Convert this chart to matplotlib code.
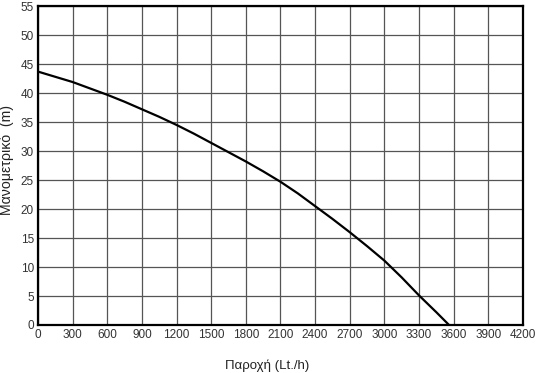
import matplotlib
matplotlib.use('Agg')
import matplotlib.pyplot as plt

plt.rcParams['font.family'] = ['Liberation Sans', 'DejaVu Sans']

# τιμές καμπύλης (παροχή Lt/h, μανομετρικό m), διαβασμένες από το γράφημα
flow = [0, 150, 300, 450, 600, 750, 900, 1050, 1200, 1350, 1500, 1650, 1800,
        1950, 2100, 2250, 2400, 2550, 2700, 2850, 3000, 3150, 3300, 3450, 3560]
head = [43.7, 42.8, 41.9, 40.8, 39.7, 38.5, 37.2, 35.9, 34.5, 33.0, 31.4, 29.8, 28.2,
        26.5, 24.7, 22.7, 20.5, 18.3, 16.0, 13.6, 11.1, 8.2, 5.1, 2.2, 0.0]

x_ticks = list(range(0, 4201, 300))
y_ticks = list(range(0, 56, 5))

fig = plt.figure(figsize=(5.4, 3.73), dpi=100)
ax = fig.add_axes([0.0704, 0.1287, 0.898, 0.855])

ax.plot(flow, head, color='black', linewidth=1.6, zorder=3)

ax.set_xlim(0, 4200)
ax.set_ylim(0, 55)
ax.set_xticks(x_ticks)
ax.set_yticks(y_ticks)
ax.tick_params(length=0, labelsize=8.5, colors='#333333', pad=3)
ax.grid(True, color='#555555', linewidth=0.9)
for s in ax.spines.values():
    s.set_linewidth(1.6)
    s.set_color('black')

fig.text(267 / 540, 1 - 366 / 373, 'Παροχή (Lt./h)', fontsize=9.5,
         color='#222222', ha='center', va='center')
fig.text(7 / 540, 1 - 160 / 373, 'Μανομετρικό  (m)', fontsize=10.2,
         color='#222222', ha='center', va='center', rotation=90)

fig.savefig('out.png', dpi=100)
